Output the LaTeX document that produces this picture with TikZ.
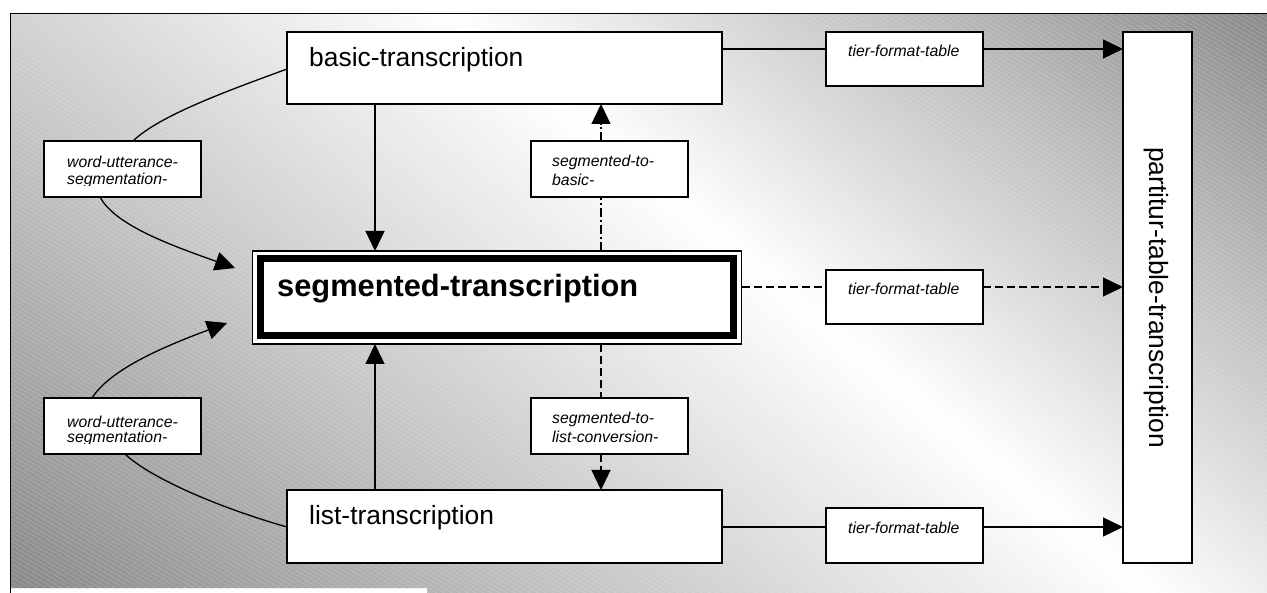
\documentclass[tikz,border=0pt]{standalone}
\usepackage{fontspec}
\setmainfont{Liberation Sans}
\usetikzlibrary{arrows.meta,calc}
\tikzset{
  box/.style={draw=black, line width=1.3pt, fill=white, rectangle, inner sep=0pt, outer sep=0pt},
  conn/.style={line width=1.3pt, black},
  arr/.style={conn, -{Triangle[length=20pt,width=19pt]}},
  dashedline/.style={conn, dash pattern=on 8pt off 4pt},
  dashdotline/.style={conn, dash pattern=on 9pt off 3pt on 2pt off 3pt},
  bigtext/.style={inner sep=0pt, font=\fontsize{26.4}{30}\selectfont},
  segtext/.style={inner sep=0pt, font=\bfseries\fontsize{30.8}{34}\selectfont},
  smalltext/.style={inner sep=0pt, font=\itshape\fontsize{15.8}{18}\selectfont},
  hatch/.style={white, line width=0.9pt, opacity=0.16},
}
\begin{document}
\begin{tikzpicture}[x=1pt,y=-1pt]
\useasboundingbox (0,0) rectangle (1267,593);
% background
\fill[white] (0,0) rectangle (1267,593);
\begin{scope}
  \clip (11,14) -- (1267,14) -- (1267,593) -- (427,593) -- (427,588) -- (11,588) -- cycle;
  \foreach \u in {-740,-734,...,530} {
    \pgfmathsetmacro{\uc}{\u+3}
    \pgfmathsetmacro{\pct}{\uc<0 ? abs(\uc)*0.0643 : \uc*0.0882}
    \pgfmathsetmacro{\pct}{min(50,\pct)}
    \fill[black!\pct!white]
      ({450+\u*0.637-350*0.771},{14-\u*0.771-350*0.637}) --
      ({450+(\u+7)*0.637-350*0.771},{14-(\u+7)*0.771-350*0.637}) --
      ({450+(\u+7)*0.637+1010*0.771},{14-(\u+7)*0.771+1010*0.637}) --
      ({450+\u*0.637+1010*0.771},{14-\u*0.771+1010*0.637}) -- cycle;
  }
  \foreach \k in {0,...,320} {
    \draw[hatch] (0,{-820+4.5*\k}) -- (1267,{-820+4.5*\k+731});
  }
\end{scope}
\draw[line width=1.5pt] (10.5,593) -- (10.5,13.5) -- (1267,13.5);

% helper coordinates
\coordinate (xA) at (375,0);
\coordinate (xB) at (601,0);
\coordinate (yA) at (0,49);
\coordinate (yB) at (0,287);
\coordinate (yC) at (0,527);
\coordinate (yD) at (0,69);
\coordinate (xC) at (133,0);
\coordinate (xD) at (100,0);
\coordinate (xE) at (92,0);
\coordinate (xF) at (125,0);
\coordinate (tipA) at (235,268);
\coordinate (tipB) at (227,323);

% boxes
\node[box, minimum width=435pt, minimum height=72pt] (basic) at (504.5,68) {};
\node[box, minimum width=435pt, minimum height=73pt] (list) at (504.5,526.5) {};
\node[box, line width=1.2pt, minimum width=489pt, minimum height=93pt] (seg) at (497,297.5) {};
\draw[line width=7pt] ([shift={(7.5,8)}]seg.north west) rectangle ([shift={(-8,-8)}]seg.south east);
\node[box, minimum width=157pt, minimum height=54pt] (tier1) at (904.5,59) {};
\node[box, minimum width=157pt, minimum height=54pt] (tier2) at (904.5,297) {};
\node[box, minimum width=157pt, minimum height=55pt] (tier3) at (904.5,535.5) {};
\node[box, minimum width=69pt, minimum height=531pt] (part) at (1157.5,297.5) {};
\node[box, minimum width=157pt, minimum height=56pt] (segbasic) at (609.5,169) {};
\node[box, minimum width=157pt, minimum height=56pt] (seglist) at (609.5,426) {};
\node[box, minimum width=157pt, minimum height=56pt] (wu1) at (122.5,169) {};
\node[box, minimum width=157pt, minimum height=56pt] (wu2) at (122.5,426) {};

% texts
\node[bigtext, anchor=base west] (basic-t) at (309,67) {basic-transcription};
\node[bigtext, anchor=base west] (list-t) at (309,524) {list-transcription};
\node[segtext, anchor=base west] (seg-t) at (277,297) {segmented-transcription};
\node[bigtext, rotate=-90] (part-t) at (1156,297.5) {partitur-table-transcription};
\node[smalltext, anchor=base west] (tier1-t) at (848,57) {tier-format-table};
\node[smalltext, anchor=base west] (tier2-t) at (848,295) {tier-format-table};
\node[smalltext, anchor=base west] (tier3-t) at (848,533) {tier-format-table};
\node[smalltext, anchor=base west] (segbasic-t1) at (552,167) {segmented-to-};
\node[smalltext, anchor=base west] (segbasic-t2) at (552,186) {basic-};
\node[smalltext, anchor=base west] (seglist-t1) at (552,424) {segmented-to-};
\node[smalltext, anchor=base west] (seglist-t2) at (552,443) {list-conversion-};
\begin{scope}
  \clip (44,141) rectangle (201,186);
  \node[smalltext, anchor=base west] (wu1-t1) at (67,168) {word-utterance-};
  \node[smalltext, anchor=base west] (wu1-t2) at (67,185) {segmentation-};
\end{scope}
\begin{scope}
  \clip (44,398) rectangle (201,443.5);
  \node[smalltext, anchor=base west] (wu2-t1) at (67,428) {word-utterance-};
  \node[smalltext, anchor=base west] (wu2-t2) at (67,442.5) {segmentation-};
\end{scope}

% connectors
\draw[arr] (basic.south -| xA) -- (seg.north -| xA);
\draw[arr] (list.north -| xA) -- (seg.south -| xA);
\draw[dashdotline] (seg.north -| xB) -- (segbasic.south -| xB);
\draw[dashdotline, -{Triangle[length=20pt,width=19pt]}] (segbasic.north -| xB) -- (basic.south -| xB);
\draw[dashedline] (seg.south -| xB) -- (seglist.north -| xB);
\draw[dashedline, -{Triangle[length=20pt,width=19pt]}] (seglist.south -| xB) -- (list.north -| xB);
\draw[conn] (basic.east |- yA) -- (tier1.west |- yA);
\draw[arr] (tier1.east |- yA) -- (part.west |- yA);
\draw[dashedline] (seg.east |- yB) -- (tier2.west |- yB);
\draw[dashedline, -{Triangle[length=20pt,width=19pt]}] (tier2.east |- yB) -- (part.west |- yB);
\draw[conn] (list.east |- yC) -- (tier3.west |- yC);
\draw[arr] (tier3.east |- yC) -- (part.west |- yC);
\draw[conn] (basic.west |- yD) .. controls (230,90) and (160,115) .. (wu1.north -| xC);
\draw[arr] (wu1.south -| xD) .. controls (115,225) and (170,245) .. (tipA);
\draw[arr] (wu2.north -| xE) .. controls (110,370) and (160,348) .. (tipB);
\draw[conn] (wu2.south -| xF) .. controls (150,478) and (220,508) .. (list.west |- yC);
\end{tikzpicture}
\end{document}
